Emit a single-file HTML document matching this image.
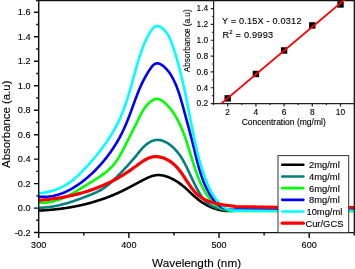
<!DOCTYPE html>
<html><head><meta charset="utf-8"><style>
html,body{margin:0;padding:0;background:#fff;}
svg{display:block;will-change:transform;}
text{font-family:"Liberation Sans", sans-serif;fill:#000;stroke:#000;stroke-width:0.12px;}
</style></head><body>
<svg width="355" height="269" viewBox="0 0 355 269">
<defs><clipPath id="cp"><rect x="38.7" y="0.5" width="315.6" height="232.1"/></clipPath>
<clipPath id="cpi"><rect x="213.6" y="0" width="140.70000000000002" height="103.6"/></clipPath></defs>
<rect width="355" height="269" fill="#fff"/>

<g clip-path="url(#cp)" fill="none" stroke-linecap="round" stroke-linejoin="round">
<path d="M38.57,210.59 L39.39,210.55 L40.21,210.52 L41.03,210.48 L41.85,210.44 L42.67,210.39 L43.49,210.35 L44.31,210.30 L45.13,210.24 L45.95,210.19 L46.77,210.13 L47.60,210.07 L48.42,210.01 L49.24,209.94 L50.06,209.88 L50.89,209.81 L51.71,209.73 L52.53,209.65 L53.36,209.58 L54.18,209.49 L55.00,209.41 L55.82,209.32 L56.65,209.23 L57.47,209.14 L58.29,209.04 L59.12,208.94 L59.94,208.84 L60.76,208.74 L61.58,208.63 L62.41,208.52 L63.23,208.40 L64.05,208.29 L64.87,208.17 L65.69,208.05 L66.51,207.92 L67.33,207.79 L68.15,207.66 L68.97,207.53 L69.79,207.39 L70.61,207.25 L71.43,207.11 L72.25,206.96 L73.07,206.81 L73.89,206.66 L74.70,206.50 L75.52,206.34 L76.33,206.18 L77.15,206.02 L77.96,205.85 L78.78,205.68 L79.59,205.50 L80.40,205.33 L81.22,205.15 L82.03,204.96 L82.84,204.78 L83.65,204.59 L84.46,204.39 L85.26,204.20 L86.07,204.00 L86.88,203.79 L87.68,203.59 L88.49,203.38 L89.29,203.16 L90.09,202.95 L90.90,202.73 L91.70,202.51 L92.50,202.28 L93.30,202.05 L94.09,201.82 L94.89,201.58 L95.69,201.34 L96.48,201.10 L97.27,200.85 L98.07,200.60 L98.86,200.35 L99.65,200.09 L100.44,199.83 L101.22,199.57 L102.01,199.30 L102.79,199.03 L103.58,198.76 L104.36,198.48 L105.14,198.20 L105.92,197.91 L106.70,197.62 L107.47,197.33 L108.25,197.04 L109.02,196.74 L109.79,196.44 L110.56,196.13 L111.33,195.82 L112.10,195.51 L112.87,195.19 L113.63,194.87 L114.39,194.55 L115.15,194.22 L115.91,193.89 L116.67,193.55 L117.43,193.21 L118.18,192.87 L118.93,192.52 L119.68,192.17 L120.43,191.82 L121.18,191.46 L121.92,191.10 L122.67,190.74 L123.41,190.37 L124.15,190.00 L124.89,189.63 L125.63,189.25 L126.37,188.88 L127.11,188.50 L127.84,188.12 L128.58,187.73 L129.31,187.35 L130.04,186.96 L130.78,186.57 L131.51,186.19 L132.24,185.80 L132.97,185.41 L133.71,185.01 L134.44,184.62 L135.17,184.23 L135.90,183.84 L136.63,183.45 L137.37,183.06 L138.10,182.67 L138.83,182.28 L139.57,181.89 L140.30,181.50 L141.04,181.11 L141.77,180.73 L142.51,180.34 L143.25,179.96 L143.99,179.58 L144.73,179.20 L145.47,178.84 L146.21,178.47 L146.96,178.12 L147.70,177.78 L148.45,177.45 L149.20,177.14 L149.96,176.84 L150.71,176.56 L151.47,176.29 L152.23,176.05 L153.00,175.83 L153.77,175.64 L154.54,175.47 L155.31,175.32 L156.09,175.21 L156.88,175.12 L157.66,175.07 L158.45,175.05 L159.25,175.06 L160.05,175.11 L160.85,175.18 L161.65,175.29 L162.45,175.42 L163.26,175.58 L164.06,175.76 L164.86,175.97 L165.66,176.20 L166.46,176.45 L167.26,176.72 L168.05,177.01 L168.84,177.32 L169.63,177.64 L170.41,177.98 L171.18,178.34 L171.95,178.71 L172.72,179.09 L173.48,179.49 L174.23,179.90 L174.97,180.32 L175.71,180.76 L176.44,181.20 L177.17,181.66 L177.88,182.13 L178.59,182.61 L179.29,183.10 L179.98,183.59 L180.66,184.10 L181.34,184.61 L182.00,185.13 L182.66,185.66 L183.31,186.20 L183.95,186.73 L184.58,187.28 L185.21,187.83 L185.83,188.38 L186.44,188.94 L187.06,189.50 L187.66,190.06 L188.27,190.62 L188.87,191.19 L189.47,191.75 L190.07,192.32 L190.67,192.88 L191.27,193.44 L191.87,194.00 L192.48,194.56 L193.08,195.12 L193.69,195.67 L194.30,196.22 L194.91,196.76 L195.53,197.30 L196.15,197.84 L196.78,198.36 L197.41,198.88 L198.06,199.39 L198.71,199.90 L199.36,200.40 L200.02,200.88 L200.69,201.36 L201.37,201.83 L202.05,202.30 L202.74,202.75 L203.44,203.19 L204.14,203.63 L204.85,204.05 L205.56,204.46 L206.28,204.87 L207.01,205.26 L207.74,205.64 L208.47,206.01 L209.21,206.37 L209.96,206.72 L210.71,207.06 L211.47,207.38 L212.23,207.70 L213.00,208.00 L213.77,208.28 L214.55,208.56 L215.33,208.82 L216.12,209.07 L216.91,209.30 L217.70,209.52 L218.50,209.73 L219.30,209.92 L220.11,210.09 L220.92,210.26 L221.74,210.40 L222.55,210.54 L223.38,210.65 L224.20,210.75 L225.03,210.84 L225.86,210.91 L226.69,210.96 L227.53,210.99 L228.37,211.01 L229.22,211.01 L230.06,211.00 L230.91,210.96 L231.76,210.91 L232.61,210.84 L233.47,210.76 L234.33,210.65 L235.19,210.52 L236.05,210.38 L354.00,210.80" stroke="#000000" stroke-width="2.6"/>
<path d="M38.47,207.69 L39.48,207.69 L40.48,207.68 L41.49,207.65 L42.49,207.61 L43.48,207.56 L44.48,207.50 L45.47,207.42 L46.46,207.34 L47.45,207.24 L48.43,207.13 L49.42,207.01 L50.40,206.88 L51.38,206.74 L52.35,206.59 L53.33,206.42 L54.30,206.25 L55.27,206.07 L56.24,205.88 L57.20,205.68 L58.17,205.48 L59.13,205.26 L60.09,205.04 L61.05,204.81 L62.00,204.57 L62.96,204.32 L63.91,204.07 L64.86,203.80 L65.81,203.54 L66.76,203.26 L67.70,202.98 L68.65,202.69 L69.59,202.40 L70.53,202.10 L71.47,201.80 L72.41,201.49 L73.35,201.18 L74.29,200.86 L75.22,200.54 L76.15,200.21 L77.09,199.88 L78.02,199.55 L78.95,199.21 L79.88,198.87 L80.81,198.53 L81.73,198.18 L82.66,197.84 L83.58,197.49 L84.51,197.14 L85.43,196.78 L86.35,196.43 L87.27,196.07 L88.19,195.71 L89.11,195.35 L90.03,194.99 L90.94,194.62 L91.85,194.24 L92.76,193.86 L93.66,193.47 L94.56,193.08 L95.46,192.67 L96.35,192.26 L97.23,191.83 L98.11,191.40 L98.98,190.95 L99.84,190.49 L100.70,190.01 L101.54,189.52 L102.38,189.01 L103.22,188.49 L104.04,187.95 L104.85,187.40 L105.65,186.82 L106.45,186.23 L107.23,185.63 L108.01,185.01 L108.78,184.38 L109.54,183.74 L110.30,183.08 L111.04,182.42 L111.78,181.75 L112.52,181.07 L113.24,180.38 L113.97,179.69 L114.68,178.99 L115.39,178.29 L116.10,177.58 L116.80,176.88 L117.50,176.17 L118.20,175.47 L118.89,174.77 L119.57,174.06 L120.26,173.36 L120.94,172.66 L121.62,171.96 L122.29,171.26 L122.97,170.56 L123.64,169.85 L124.30,169.15 L124.97,168.44 L125.63,167.73 L126.29,167.02 L126.95,166.31 L127.61,165.59 L128.27,164.87 L128.92,164.14 L129.57,163.41 L130.23,162.68 L130.88,161.94 L131.53,161.20 L132.18,160.45 L132.83,159.69 L133.47,158.93 L134.12,158.16 L134.77,157.38 L135.42,156.60 L136.06,155.81 L136.71,155.01 L137.36,154.21 L138.01,153.40 L138.67,152.60 L139.33,151.80 L139.99,151.00 L140.66,150.21 L141.34,149.44 L142.03,148.67 L142.72,147.92 L143.42,147.19 L144.14,146.48 L144.86,145.79 L145.60,145.13 L146.35,144.50 L147.12,143.89 L147.89,143.32 L148.69,142.78 L149.50,142.28 L150.32,141.82 L151.16,141.41 L152.01,141.04 L152.87,140.72 L153.74,140.44 L154.61,140.23 L155.50,140.06 L156.39,139.96 L157.29,139.92 L158.20,139.93 L159.10,140.01 L160.01,140.14 L160.92,140.33 L161.83,140.57 L162.73,140.86 L163.63,141.19 L164.52,141.57 L165.41,141.99 L166.29,142.44 L167.15,142.93 L168.00,143.46 L168.84,144.01 L169.67,144.60 L170.48,145.21 L171.27,145.84 L172.05,146.50 L172.82,147.19 L173.57,147.89 L174.30,148.61 L175.01,149.35 L175.71,150.10 L176.39,150.87 L177.06,151.65 L177.71,152.44 L178.34,153.24 L178.95,154.04 L179.54,154.85 L180.12,155.67 L180.68,156.49 L181.22,157.32 L181.75,158.15 L182.27,158.99 L182.77,159.83 L183.27,160.68 L183.75,161.53 L184.22,162.39 L184.68,163.25 L185.13,164.11 L185.57,164.98 L186.01,165.85 L186.44,166.72 L186.86,167.60 L187.28,168.48 L187.70,169.36 L188.12,170.25 L188.53,171.14 L188.94,172.03 L189.35,172.92 L189.77,173.81 L190.18,174.71 L190.60,175.61 L191.01,176.50 L191.43,177.40 L191.86,178.31 L192.28,179.21 L192.71,180.11 L193.15,181.01 L193.58,181.91 L194.02,182.81 L194.47,183.71 L194.92,184.60 L195.37,185.50 L195.83,186.39 L196.29,187.28 L196.76,188.17 L197.23,189.06 L197.71,189.94 L198.19,190.82 L198.68,191.69 L199.18,192.56 L199.69,193.42 L200.21,194.27 L200.74,195.11 L201.28,195.93 L201.84,196.74 L202.41,197.54 L202.99,198.32 L203.60,199.07 L204.22,199.81 L204.87,200.53 L205.53,201.22 L206.22,201.89 L206.93,202.53 L207.66,203.14 L208.42,203.72 L209.21,204.27 L210.02,204.79 L210.85,205.28 L211.71,205.75 L212.58,206.18 L213.48,206.59 L214.39,206.97 L215.32,207.32 L216.26,207.65 L217.22,207.95 L218.19,208.23 L219.17,208.48 L220.15,208.72 L221.15,208.92 L222.15,209.11 L223.16,209.28 L224.17,209.42 L225.18,209.54 L226.19,209.65 L227.20,209.74 L228.21,209.80 L229.21,209.85 L230.21,209.89 L231.21,209.91 L232.19,209.91 L233.17,209.89 L234.14,209.86 L235.09,209.82 L236.03,209.77 L354.00,210.20" stroke="#008080" stroke-width="2.6"/>
<path d="M38.33,202.53 L39.65,202.62 L40.96,202.67 L42.24,202.69 L43.52,202.68 L44.78,202.63 L46.02,202.55 L47.25,202.44 L48.47,202.29 L49.68,202.12 L50.87,201.92 L52.05,201.69 L53.22,201.43 L54.38,201.15 L55.53,200.85 L56.67,200.52 L57.80,200.16 L58.91,199.79 L60.03,199.39 L61.13,198.97 L62.22,198.53 L63.31,198.08 L64.39,197.60 L65.46,197.11 L66.53,196.61 L67.59,196.08 L68.65,195.55 L69.71,195.00 L70.75,194.44 L71.80,193.86 L72.84,193.28 L73.88,192.69 L74.92,192.08 L75.95,191.47 L76.98,190.86 L78.02,190.23 L79.05,189.60 L80.08,188.97 L81.11,188.33 L82.15,187.69 L83.18,187.05 L84.22,186.41 L85.26,185.77 L86.30,185.13 L87.34,184.49 L88.39,183.86 L89.43,183.22 L90.48,182.58 L91.52,181.94 L92.57,181.30 L93.61,180.65 L94.65,180.00 L95.68,179.35 L96.71,178.69 L97.73,178.03 L98.75,177.35 L99.76,176.68 L100.76,175.99 L101.75,175.29 L102.72,174.59 L103.69,173.87 L104.65,173.14 L105.59,172.40 L106.52,171.65 L107.43,170.88 L108.33,170.10 L109.21,169.31 L110.07,168.50 L110.92,167.67 L111.74,166.82 L112.55,165.96 L113.33,165.08 L114.09,164.18 L114.83,163.26 L115.55,162.32 L116.25,161.36 L116.93,160.39 L117.59,159.40 L118.24,158.39 L118.87,157.38 L119.49,156.35 L120.09,155.31 L120.68,154.26 L121.26,153.20 L121.84,152.14 L122.40,151.07 L122.96,149.99 L123.51,148.91 L124.05,147.82 L124.60,146.74 L125.14,145.65 L125.68,144.56 L126.22,143.48 L126.76,142.40 L127.30,141.32 L127.85,140.24 L128.40,139.17 L128.94,138.09 L129.49,137.02 L130.04,135.95 L130.59,134.88 L131.14,133.81 L131.69,132.75 L132.24,131.68 L132.78,130.61 L133.33,129.54 L133.88,128.47 L134.42,127.39 L134.96,126.32 L135.51,125.24 L136.05,124.16 L136.58,123.08 L137.12,121.99 L137.65,120.90 L138.18,119.81 L138.71,118.71 L139.24,117.62 L139.78,116.52 L140.33,115.43 L140.88,114.35 L141.46,113.28 L142.05,112.21 L142.66,111.16 L143.29,110.12 L143.94,109.10 L144.63,108.10 L145.35,107.11 L146.10,106.15 L146.89,105.22 L147.72,104.31 L148.59,103.43 L149.50,102.58 L150.46,101.76 L151.46,101.01 L152.50,100.33 L153.56,99.76 L154.63,99.32 L155.72,99.03 L156.80,98.91 L157.88,98.99 L158.95,99.24 L160.01,99.65 L161.05,100.19 L162.07,100.83 L163.07,101.54 L164.04,102.31 L164.98,103.11 L165.90,103.93 L166.78,104.78 L167.64,105.65 L168.48,106.55 L169.29,107.47 L170.07,108.40 L170.84,109.36 L171.58,110.32 L172.30,111.31 L173.00,112.31 L173.69,113.31 L174.35,114.33 L175.00,115.36 L175.63,116.40 L176.24,117.44 L176.84,118.49 L177.43,119.55 L178.00,120.61 L178.55,121.69 L179.09,122.77 L179.62,123.85 L180.13,124.94 L180.63,126.04 L181.12,127.15 L181.60,128.25 L182.07,129.37 L182.53,130.48 L182.98,131.61 L183.41,132.73 L183.84,133.86 L184.26,134.99 L184.68,136.13 L185.08,137.27 L185.48,138.41 L185.87,139.55 L186.26,140.70 L186.63,141.84 L187.01,142.99 L187.38,144.14 L187.74,145.29 L188.11,146.44 L188.46,147.59 L188.82,148.74 L189.17,149.89 L189.53,151.03 L189.88,152.18 L190.23,153.33 L190.57,154.48 L190.92,155.62 L191.27,156.77 L191.62,157.92 L191.98,159.06 L192.33,160.21 L192.69,161.35 L193.05,162.49 L193.41,163.64 L193.77,164.78 L194.15,165.92 L194.52,167.06 L194.90,168.20 L195.29,169.34 L195.68,170.48 L196.08,171.61 L196.49,172.75 L196.90,173.88 L197.32,175.02 L197.75,176.15 L198.19,177.28 L198.64,178.42 L199.10,179.55 L199.56,180.68 L200.04,181.80 L200.53,182.93 L201.04,184.05 L201.55,185.17 L202.08,186.29 L202.62,187.39 L203.18,188.49 L203.75,189.58 L204.33,190.66 L204.93,191.72 L205.55,192.77 L206.19,193.81 L206.84,194.83 L207.51,195.83 L208.20,196.81 L208.91,197.77 L209.64,198.71 L210.39,199.62 L211.17,200.51 L211.96,201.37 L212.78,202.21 L213.61,203.02 L214.48,203.79 L215.36,204.54 L216.27,205.25 L217.21,205.92 L218.17,206.56 L219.16,207.16 L220.18,207.73 L221.22,208.25 L222.30,208.73 L223.40,209.17 L224.53,209.57 L225.69,209.92 L226.88,210.22 L228.10,210.47 L229.35,210.68 L230.64,210.83 L231.96,210.93 L233.31,210.98 L234.70,210.97 L236.12,210.90 L354.00,211.20" stroke="#00ff00" stroke-width="2.6"/>
<path d="M38.42,196.60 L39.91,196.73 L41.38,196.81 L42.84,196.84 L44.29,196.84 L45.74,196.79 L47.17,196.70 L48.59,196.57 L49.99,196.40 L51.39,196.19 L52.78,195.95 L54.16,195.67 L55.52,195.35 L56.88,195.00 L58.22,194.61 L59.55,194.20 L60.88,193.75 L62.19,193.27 L63.49,192.76 L64.78,192.22 L66.06,191.65 L67.33,191.05 L68.58,190.43 L69.83,189.79 L71.07,189.12 L72.29,188.42 L73.51,187.70 L74.71,186.97 L75.91,186.21 L77.09,185.43 L78.26,184.63 L79.43,183.81 L80.58,182.98 L81.72,182.13 L82.85,181.27 L83.97,180.39 L85.08,179.50 L86.18,178.60 L87.26,177.68 L88.34,176.75 L89.41,175.82 L90.46,174.87 L91.51,173.91 L92.54,172.94 L93.57,171.96 L94.58,170.97 L95.58,169.97 L96.57,168.96 L97.55,167.94 L98.52,166.91 L99.48,165.87 L100.43,164.82 L101.37,163.76 L102.29,162.69 L103.21,161.61 L104.11,160.52 L105.01,159.43 L105.89,158.32 L106.76,157.21 L107.62,156.08 L108.47,154.95 L109.30,153.81 L110.13,152.67 L110.94,151.51 L111.75,150.35 L112.54,149.18 L113.32,148.00 L114.09,146.81 L114.85,145.62 L115.59,144.41 L116.33,143.21 L117.05,141.99 L117.76,140.77 L118.46,139.54 L119.15,138.30 L119.83,137.06 L120.49,135.81 L121.15,134.56 L121.79,133.30 L122.42,132.03 L123.04,130.75 L123.65,129.48 L124.24,128.19 L124.82,126.90 L125.39,125.61 L125.95,124.30 L126.50,123.00 L127.04,121.69 L127.57,120.38 L128.10,119.06 L128.61,117.74 L129.12,116.41 L129.62,115.09 L130.12,113.76 L130.61,112.43 L131.10,111.09 L131.59,109.76 L132.07,108.43 L132.55,107.09 L133.04,105.76 L133.52,104.42 L134.01,103.09 L134.49,101.75 L134.98,100.42 L135.48,99.09 L135.98,97.76 L136.48,96.43 L136.99,95.11 L137.51,93.79 L138.03,92.47 L138.56,91.15 L139.10,89.84 L139.66,88.54 L140.22,87.24 L140.79,85.94 L141.38,84.65 L141.98,83.37 L142.60,82.09 L143.22,80.81 L143.87,79.55 L144.53,78.29 L145.21,77.04 L145.90,75.80 L146.62,74.56 L147.35,73.34 L148.11,72.12 L148.88,70.91 L149.68,69.71 L150.50,68.53 L151.35,67.36 L152.23,66.24 L153.16,65.23 L154.14,64.39 L155.20,63.75 L156.34,63.37 L157.58,63.31 L158.90,63.58 L160.26,64.11 L161.59,64.87 L162.88,65.80 L164.11,66.82 L165.26,67.88 L166.34,68.97 L167.33,70.07 L168.27,71.19 L169.14,72.33 L169.95,73.48 L170.72,74.65 L171.45,75.84 L172.14,77.04 L172.80,78.26 L173.43,79.49 L174.05,80.73 L174.64,81.99 L175.21,83.25 L175.77,84.53 L176.30,85.82 L176.82,87.12 L177.32,88.43 L177.81,89.74 L178.28,91.07 L178.74,92.40 L179.19,93.74 L179.62,95.09 L180.05,96.44 L180.46,97.80 L180.87,99.16 L181.26,100.53 L181.66,101.90 L182.04,103.27 L182.42,104.64 L182.80,106.02 L183.18,107.40 L183.55,108.77 L183.92,110.15 L184.29,111.53 L184.66,112.90 L185.04,114.27 L185.41,115.65 L185.78,117.02 L186.15,118.39 L186.52,119.76 L186.89,121.13 L187.26,122.50 L187.63,123.87 L188.00,125.24 L188.37,126.61 L188.73,127.98 L189.10,129.35 L189.46,130.71 L189.82,132.08 L190.18,133.45 L190.54,134.82 L190.90,136.19 L191.25,137.56 L191.61,138.93 L191.96,140.30 L192.31,141.67 L192.65,143.04 L193.00,144.42 L193.34,145.79 L193.68,147.17 L194.02,148.54 L194.35,149.92 L194.69,151.29 L195.02,152.67 L195.35,154.05 L195.69,155.42 L196.03,156.80 L196.37,158.17 L196.71,159.55 L197.06,160.92 L197.41,162.29 L197.78,163.66 L198.14,165.02 L198.52,166.39 L198.90,167.75 L199.29,169.11 L199.70,170.46 L200.11,171.81 L200.54,173.16 L200.97,174.50 L201.42,175.84 L201.89,177.18 L202.37,178.51 L202.86,179.83 L203.38,181.15 L203.91,182.46 L204.45,183.77 L205.02,185.07 L205.60,186.37 L206.21,187.66 L206.84,188.94 L207.49,190.21 L208.16,191.48 L208.85,192.74 L209.57,193.99 L210.32,195.22 L211.09,196.44 L211.89,197.64 L212.72,198.80 L213.59,199.94 L214.48,201.03 L215.41,202.09 L216.38,203.10 L217.38,204.06 L218.42,204.97 L219.50,205.81 L220.62,206.59 L221.78,207.30 L222.98,207.94 L224.23,208.50 L225.53,208.98 L226.87,209.37 L228.27,209.66 L229.71,209.86 L231.20,209.96 L232.75,209.96 L234.36,209.84 L236.01,209.61 L354.00,209.60" stroke="#0000ff" stroke-width="2.6"/>
<path d="M38.50,193.29 L40.12,193.12 L41.76,192.92 L43.39,192.68 L45.03,192.41 L46.66,192.11 L48.29,191.77 L49.92,191.39 L51.53,190.97 L53.13,190.51 L54.72,190.02 L56.29,189.48 L57.83,188.90 L59.36,188.27 L60.86,187.60 L62.33,186.88 L63.78,186.12 L65.20,185.31 L66.59,184.46 L67.96,183.58 L69.31,182.66 L70.63,181.70 L71.94,180.71 L73.22,179.69 L74.49,178.64 L75.73,177.56 L76.96,176.46 L78.18,175.34 L79.38,174.19 L80.56,173.03 L81.74,171.85 L82.90,170.66 L84.05,169.45 L85.19,168.24 L86.32,167.02 L87.45,165.79 L88.56,164.55 L89.67,163.31 L90.78,162.06 L91.87,160.81 L92.95,159.55 L94.03,158.29 L95.09,157.02 L96.15,155.74 L97.20,154.45 L98.23,153.16 L99.26,151.86 L100.28,150.56 L101.28,149.25 L102.27,147.93 L103.25,146.60 L104.22,145.27 L105.18,143.93 L106.13,142.58 L107.06,141.23 L107.98,139.87 L108.88,138.50 L109.77,137.12 L110.65,135.73 L111.52,134.34 L112.36,132.94 L113.20,131.53 L114.02,130.11 L114.82,128.69 L115.61,127.25 L116.38,125.81 L117.14,124.36 L117.88,122.90 L118.60,121.43 L119.30,119.95 L119.99,118.47 L120.66,116.97 L121.31,115.47 L121.95,113.95 L122.57,112.43 L123.17,110.90 L123.76,109.37 L124.34,107.82 L124.90,106.27 L125.45,104.72 L125.98,103.16 L126.51,101.59 L127.02,100.02 L127.53,98.44 L128.03,96.86 L128.51,95.27 L128.99,93.68 L129.47,92.09 L129.93,90.49 L130.39,88.89 L130.85,87.29 L131.30,85.69 L131.75,84.08 L132.19,82.48 L132.64,80.87 L133.08,79.27 L133.52,77.66 L133.96,76.05 L134.40,74.45 L134.84,72.84 L135.29,71.24 L135.74,69.64 L136.19,68.04 L136.64,66.44 L137.10,64.85 L137.57,63.26 L138.04,61.67 L138.52,60.09 L139.01,58.51 L139.50,56.94 L140.01,55.37 L140.52,53.81 L141.05,52.25 L141.59,50.70 L142.14,49.15 L142.72,47.61 L143.31,46.08 L143.93,44.55 L144.57,43.03 L145.25,41.51 L145.95,40.00 L146.68,38.50 L147.44,37.00 L148.24,35.51 L149.08,34.03 L149.96,32.55 L150.89,31.08 L151.86,29.68 L152.89,28.41 L153.97,27.34 L155.13,26.54 L156.35,26.06 L157.66,25.98 L159.03,26.31 L160.44,26.97 L161.84,27.90 L163.19,29.02 L164.46,30.27 L165.62,31.59 L166.68,32.95 L167.63,34.36 L168.49,35.80 L169.28,37.28 L170.00,38.78 L170.66,40.31 L171.28,41.86 L171.86,43.41 L172.42,44.98 L172.96,46.55 L173.49,48.13 L174.01,49.70 L174.52,51.28 L175.02,52.86 L175.51,54.44 L176.00,56.02 L176.47,57.60 L176.94,59.19 L177.39,60.78 L177.84,62.36 L178.28,63.95 L178.71,65.54 L179.14,67.14 L179.56,68.73 L179.97,70.32 L180.37,71.92 L180.77,73.52 L181.16,75.12 L181.55,76.72 L181.93,78.32 L182.30,79.92 L182.67,81.52 L183.04,83.13 L183.39,84.73 L183.75,86.34 L184.10,87.94 L184.45,89.55 L184.79,91.16 L185.13,92.77 L185.46,94.38 L185.80,95.99 L186.13,97.61 L186.45,99.22 L186.78,100.83 L187.10,102.45 L187.42,104.06 L187.74,105.68 L188.06,107.30 L188.38,108.91 L188.69,110.53 L189.01,112.15 L189.32,113.77 L189.64,115.39 L189.95,117.01 L190.27,118.63 L190.58,120.25 L190.90,121.87 L191.22,123.49 L191.54,125.11 L191.86,126.73 L192.18,128.36 L192.50,129.98 L192.83,131.60 L193.16,133.22 L193.49,134.85 L193.83,136.47 L194.17,138.09 L194.51,139.71 L194.86,141.33 L195.21,142.95 L195.57,144.57 L195.93,146.19 L196.30,147.80 L196.68,149.41 L197.06,151.02 L197.46,152.63 L197.85,154.24 L198.26,155.84 L198.68,157.44 L199.10,159.04 L199.54,160.63 L199.98,162.22 L200.43,163.81 L200.90,165.39 L201.38,166.97 L201.86,168.54 L202.36,170.11 L202.88,171.67 L203.40,173.23 L203.94,174.79 L204.49,176.33 L205.05,177.88 L205.63,179.41 L206.23,180.94 L206.84,182.47 L207.47,183.98 L208.12,185.49 L208.79,186.98 L209.49,188.46 L210.22,189.94 L210.98,191.39 L211.78,192.83 L212.61,194.26 L213.48,195.66 L214.39,197.05 L215.35,198.42 L216.35,199.76 L217.40,201.08 L218.51,202.36 L219.66,203.58 L220.86,204.75 L222.12,205.84 L223.43,206.85 L224.80,207.76 L226.22,208.57 L227.70,209.25 L229.24,209.81 L230.84,210.22 L232.49,210.49 L234.21,210.58 L235.99,210.51 L280.00,211.00 L354.00,210.80" stroke="#00ffff" stroke-width="2.6"/>
<path d="M38.63,200.26 L39.49,200.20 L40.34,200.13 L41.19,200.07 L42.05,200.00 L42.91,199.93 L43.76,199.85 L44.62,199.77 L45.48,199.69 L46.34,199.61 L47.20,199.52 L48.06,199.42 L48.92,199.33 L49.78,199.23 L50.64,199.12 L51.50,199.02 L52.37,198.91 L53.23,198.79 L54.09,198.67 L54.96,198.55 L55.82,198.43 L56.68,198.30 L57.55,198.17 L58.41,198.03 L59.27,197.89 L60.14,197.75 L61.00,197.61 L61.86,197.45 L62.73,197.30 L63.59,197.14 L64.45,196.98 L65.32,196.82 L66.18,196.65 L67.04,196.48 L67.90,196.30 L68.76,196.12 L69.62,195.94 L70.48,195.75 L71.34,195.56 L72.20,195.36 L73.06,195.16 L73.92,194.96 L74.77,194.76 L75.63,194.55 L76.48,194.33 L77.34,194.11 L78.19,193.89 L79.04,193.66 L79.89,193.43 L80.74,193.20 L81.59,192.96 L82.44,192.72 L83.28,192.48 L84.13,192.23 L84.97,191.97 L85.82,191.71 L86.66,191.45 L87.50,191.19 L88.33,190.92 L89.17,190.64 L90.01,190.37 L90.84,190.08 L91.67,189.80 L92.50,189.51 L93.33,189.21 L94.16,188.92 L94.98,188.61 L95.81,188.31 L96.63,188.00 L97.45,187.68 L98.26,187.36 L99.08,187.04 L99.89,186.71 L100.70,186.38 L101.51,186.04 L102.32,185.70 L103.12,185.36 L103.93,185.01 L104.73,184.66 L105.52,184.30 L106.32,183.94 L107.11,183.57 L107.90,183.20 L108.69,182.83 L109.47,182.45 L110.26,182.06 L111.04,181.68 L111.81,181.28 L112.59,180.89 L113.36,180.49 L114.13,180.08 L114.89,179.67 L115.66,179.26 L116.42,178.84 L117.17,178.42 L117.93,177.99 L118.68,177.56 L119.43,177.12 L120.18,176.68 L120.92,176.24 L121.66,175.79 L122.40,175.33 L123.14,174.87 L123.88,174.41 L124.61,173.95 L125.35,173.48 L126.08,173.00 L126.81,172.53 L127.54,172.04 L128.27,171.56 L129.00,171.07 L129.72,170.57 L130.45,170.08 L131.17,169.57 L131.90,169.07 L132.62,168.56 L133.35,168.05 L134.07,167.53 L134.80,167.01 L135.52,166.48 L136.25,165.96 L136.97,165.42 L137.70,164.89 L138.42,164.36 L139.15,163.83 L139.88,163.30 L140.61,162.79 L141.35,162.27 L142.08,161.77 L142.82,161.28 L143.56,160.81 L144.31,160.35 L145.06,159.91 L145.81,159.48 L146.57,159.08 L147.33,158.70 L148.10,158.35 L148.87,158.02 L149.65,157.73 L150.43,157.46 L151.22,157.23 L152.02,157.03 L152.82,156.86 L153.63,156.74 L154.45,156.65 L155.27,156.61 L156.10,156.60 L156.94,156.63 L157.78,156.70 L158.62,156.81 L159.46,156.94 L160.30,157.12 L161.14,157.32 L161.98,157.56 L162.82,157.82 L163.65,158.12 L164.48,158.44 L165.30,158.79 L166.11,159.17 L166.92,159.57 L167.72,159.99 L168.51,160.44 L169.29,160.91 L170.05,161.40 L170.81,161.91 L171.55,162.44 L172.27,162.99 L172.98,163.55 L173.67,164.13 L174.34,164.72 L175.00,165.33 L175.63,165.95 L176.25,166.58 L176.86,167.23 L177.45,167.88 L178.03,168.55 L178.59,169.22 L179.15,169.90 L179.69,170.60 L180.22,171.29 L180.75,172.00 L181.26,172.71 L181.77,173.43 L182.28,174.15 L182.77,174.88 L183.27,175.61 L183.76,176.35 L184.24,177.08 L184.73,177.82 L185.21,178.56 L185.70,179.30 L186.18,180.04 L186.66,180.78 L187.14,181.51 L187.63,182.25 L188.11,182.98 L188.60,183.71 L189.09,184.43 L189.59,185.15 L190.09,185.86 L190.59,186.57 L191.10,187.27 L191.62,187.97 L192.15,188.65 L192.68,189.33 L193.22,190.00 L193.76,190.65 L194.32,191.30 L194.89,191.93 L195.47,192.56 L196.06,193.17 L196.66,193.77 L197.27,194.35 L197.90,194.92 L198.54,195.47 L199.19,196.01 L199.86,196.53 L200.54,197.04 L201.24,197.52 L201.96,197.99 L202.69,198.44 L203.44,198.87 L204.20,199.29 L204.98,199.68 L205.78,200.06 L206.58,200.42 L207.40,200.77 L208.23,201.10 L209.07,201.42 L209.91,201.72 L210.77,202.01 L211.64,202.29 L212.51,202.55 L213.39,202.80 L214.28,203.04 L215.17,203.26 L216.06,203.48 L216.96,203.68 L217.86,203.88 L218.76,204.06 L219.66,204.24 L220.57,204.41 L221.47,204.57 L222.37,204.72 L223.27,204.86 L224.17,205.00 L225.06,205.13 L225.95,205.26 L226.83,205.38 L227.71,205.50 L228.58,205.61 L229.45,205.72 L230.30,205.82 L231.15,205.92 L231.98,206.02 L232.81,206.12 L233.62,206.21 L234.42,206.31 L235.21,206.40 L235.98,206.50 L278.00,207.40 L354.00,207.50" stroke="#ff0000" stroke-width="3.2"/>
</g>
<g stroke="#111" stroke-width="1.45" fill="none">
<path d="M38.7,0.5 V232.6 H354.3"/>
<path d="M36,0.5 H354.3 V232.6" stroke-width="1.3"/>
<path d="M33.900000000000006,232.58 H38.7 M36.2,220.34 H38.7 M33.900000000000006,208.10 H38.7 M36.2,195.86 H38.7 M33.900000000000006,183.62 H38.7 M36.2,171.38 H38.7 M33.900000000000006,159.14 H38.7 M36.2,146.90 H38.7 M33.900000000000006,134.66 H38.7 M36.2,122.42 H38.7 M33.900000000000006,110.18 H38.7 M36.2,97.94 H38.7 M33.900000000000006,85.70 H38.7 M36.2,73.46 H38.7 M33.900000000000006,61.22 H38.7 M36.2,48.98 H38.7 M33.900000000000006,36.74 H38.7 M36.2,24.50 H38.7 M33.900000000000006,12.26 H38.7 M36.2,0.02 H38.7 M38.70,232.6 V238.1 M83.78,232.6 V235.6 M128.87,232.6 V238.1 M173.95,232.6 V235.6 M219.04,232.6 V238.1 M264.12,232.6 V235.6 M309.21,232.6 V238.1 M354.29,232.6 V235.6"/>
</g>
<text x="30.6" y="235.78" font-size="9.2" text-anchor="end">-0.2</text>
<text x="30.6" y="211.30" font-size="9.2" text-anchor="end">0.0</text>
<text x="30.6" y="186.82" font-size="9.2" text-anchor="end">0.2</text>
<text x="30.6" y="162.34" font-size="9.2" text-anchor="end">0.4</text>
<text x="30.6" y="137.86" font-size="9.2" text-anchor="end">0.6</text>
<text x="30.6" y="113.38" font-size="9.2" text-anchor="end">0.8</text>
<text x="30.6" y="88.90" font-size="9.2" text-anchor="end">1.0</text>
<text x="30.6" y="64.42" font-size="9.2" text-anchor="end">1.2</text>
<text x="30.6" y="39.94" font-size="9.2" text-anchor="end">1.4</text>
<text x="30.6" y="15.46" font-size="9.2" text-anchor="end">1.6</text>
<text x="38.70" y="247.8" font-size="9.1" text-anchor="middle">300</text>
<text x="128.87" y="247.8" font-size="9.1" text-anchor="middle">400</text>
<text x="219.04" y="247.8" font-size="9.1" text-anchor="middle">500</text>
<text x="309.21" y="247.8" font-size="9.1" text-anchor="middle">600</text>
<text x="196.6" y="266.9" font-size="11.75" text-anchor="middle">Wavelength (nm)</text>
<text transform="translate(10.3,124.2) rotate(-90)" font-size="11.4" text-anchor="middle">Absorbance (a.u)</text>
<rect x="278.0" y="155.6" width="70.69999999999999" height="77.0" fill="#fff" stroke="#333" stroke-width="1"/>
<path d="M282.2,164.80 H303.4" stroke="#000000" stroke-width="2.6" stroke-linecap="round"/>
<text x="324.4" y="168.20" font-size="9.4" text-anchor="middle">2mg/ml</text>
<path d="M282.2,176.48 H303.4" stroke="#008080" stroke-width="2.6" stroke-linecap="round"/>
<text x="324.4" y="179.88" font-size="9.4" text-anchor="middle">4mg/ml</text>
<path d="M282.2,188.16 H303.4" stroke="#00ff00" stroke-width="2.6" stroke-linecap="round"/>
<text x="324.4" y="191.56" font-size="9.4" text-anchor="middle">6mg/ml</text>
<path d="M282.2,199.84 H303.4" stroke="#0000ff" stroke-width="2.6" stroke-linecap="round"/>
<text x="324.4" y="203.24" font-size="9.4" text-anchor="middle">8mg/ml</text>
<path d="M282.2,211.52 H303.4" stroke="#00ffff" stroke-width="2.6" stroke-linecap="round"/>
<text x="324.4" y="214.92" font-size="9.4" text-anchor="middle">10mg/ml</text>
<path d="M282.2,223.20 H303.4" stroke="#ff0000" stroke-width="3.2" stroke-linecap="round"/>
<text x="324.4" y="226.60" font-size="9.4" text-anchor="middle">Cur/GCS</text>
<g stroke="#222" stroke-width="1.2" fill="none">
<path d="M213.6,0 V103.6 H354.3"/>
<path d="M210.79999999999998,103.60 H213.6 M212.1,95.68 H213.6 M210.79999999999998,87.76 H213.6 M212.1,79.84 H213.6 M210.79999999999998,71.92 H213.6 M212.1,64.00 H213.6 M210.79999999999998,56.08 H213.6 M212.1,48.16 H213.6 M210.79999999999998,40.24 H213.6 M212.1,32.32 H213.6 M210.79999999999998,24.40 H213.6 M212.1,16.48 H213.6 M210.79999999999998,8.56 H213.6 M212.1,0.64 H213.6 M213.60,103.6 V105.1 M227.70,103.6 V106.39999999999999 M241.80,103.6 V105.1 M255.90,103.6 V106.39999999999999 M270.00,103.6 V105.1 M284.10,103.6 V106.39999999999999 M298.20,103.6 V105.1 M312.30,103.6 V106.39999999999999 M326.40,103.6 V105.1 M340.50,103.6 V106.39999999999999 M354.60,103.6 V105.1"/>
</g>
<text x="208.2" y="106.40" font-size="8.4" text-anchor="end">0.2</text>
<text x="208.2" y="90.56" font-size="8.4" text-anchor="end">0.4</text>
<text x="208.2" y="74.72" font-size="8.4" text-anchor="end">0.6</text>
<text x="208.2" y="58.88" font-size="8.4" text-anchor="end">0.8</text>
<text x="208.2" y="43.04" font-size="8.4" text-anchor="end">1.0</text>
<text x="208.2" y="27.20" font-size="8.4" text-anchor="end">1.2</text>
<text x="208.2" y="11.36" font-size="8.4" text-anchor="end">1.4</text>
<text x="227.70" y="114.8" font-size="8.4" text-anchor="middle">2</text>
<text x="255.90" y="114.8" font-size="8.4" text-anchor="middle">4</text>
<text x="284.10" y="114.8" font-size="8.4" text-anchor="middle">6</text>
<text x="312.30" y="114.8" font-size="8.4" text-anchor="middle">8</text>
<text x="340.50" y="114.8" font-size="8.4" text-anchor="middle">10</text>
<text x="283.7" y="124.5" font-size="8.5" text-anchor="middle">Concentration (mg/ml)</text>
<text transform="translate(190.2,40.75) rotate(-90)" font-size="8.2" text-anchor="middle">Absorbance (a.u)</text>
<g clip-path="url(#cpi)">
<rect x="224.50" y="95.17" width="6.4" height="6.4" fill="#000"/>
<rect x="252.70" y="70.78" width="6.4" height="6.4" fill="#000"/>
<rect x="280.90" y="47.26" width="6.4" height="6.4" fill="#000"/>
<rect x="309.10" y="22.23" width="6.4" height="6.4" fill="#000"/>
<rect x="337.30" y="1.24" width="6.4" height="6.4" fill="#000"/>
<line x1="213.60" y1="110.03" x2="354.60" y2="-8.77" stroke="#ff0000" stroke-width="1.8"/>
</g>
<text x="221.9" y="24.1" font-size="9.2" textLength="79.6" lengthAdjust="spacing">Y = 0.15X - 0.0312</text>
<text x="222.4" y="37.6" font-size="9.2" letter-spacing="0.22">R<tspan font-size="6" dy="-4">2</tspan><tspan dy="4"> = 0.9993</tspan></text>
</svg></body></html>
